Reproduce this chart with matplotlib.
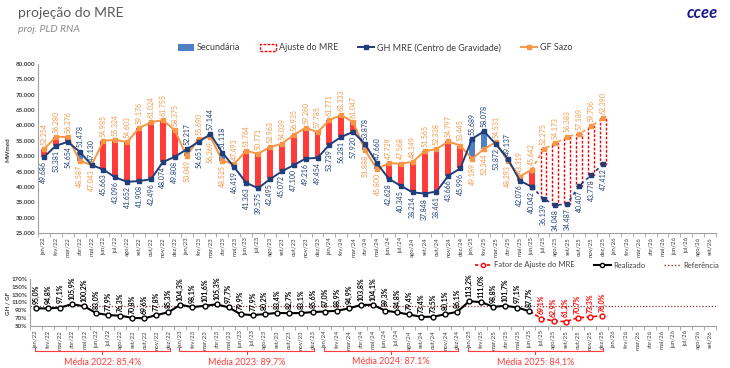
import matplotlib
matplotlib.use("Agg")
import matplotlib.pyplot as plt
from matplotlib.lines import Line2D
from matplotlib.patches import Patch
import matplotlib.transforms as mtransforms

plt.rcParams['font.family'] = ['Lato', 'DejaVu Sans']

# --- data -------------------------------------------------------------
meses = ['jan', 'fev', 'mar', 'abr', 'mai', 'jun', 'jul', 'ago', 'set', 'out', 'nov', 'dez']
rotulos = [f"{m}/{a}" for a in ['22', '23', '24', '25', '26'] for m in meses][:57]

# GH MRE (Centro de Gravidade), MWmed  - jan/22 .. dez/25
gh_mre = [49686, 53381, 54654, 51478, 47130, 45663, 43096, 41652, 41908, 42496, 48074, 49808,
          52217, 54651, 57144, 51118, 46419, 41363, 39575, 42495, 45072, 47100, 49216, 49454,
          53739, 56281, 57920, 53878, 47660, 42628, 40345, 38214, 37848, 38461, 43666, 45996,
          55689, 58078, 53872, 49137, 42076, 40042, 36139, 34048, 34487, 40407, 43778, 47412]

# GF Sazo, MWmed
gf_sazo = [52254, 56280, 56276, 48587, 47043, 54985, 55324, 54603, 59176, 61024, 61755, 58375,
           50049, 55690, 56269, 48525, 47493, 51764, 50771, 52963, 54039, 56935, 59260, 57785,
           61771, 63333, 61047, 51888, 45800, 47729, 47568, 48149, 51565, 52338, 54797, 53445,
           49189, 52344, 54531, 48293, 43319, 45642, 52275, 54173, 56383, 57189, 59706, 62390]

n_realizado = 42  # jan/22 .. jun/25

# GH / GF (%)
fator = [95.0, 94.8, 97.1, 105.9, 100.2, 83.0, 77.9, 76.3, 70.8, 69.6, 77.8, 85.3,
         104.3, 98.1, 101.6, 105.3, 97.7, 79.9, 77.9, 80.2, 83.4, 82.7, 83.1, 85.6,
         87.0, 88.9, 94.9, 103.8, 104.1, 89.3, 84.8, 79.4, 73.4, 73.5, 80.1, 86.1,
         113.2, 111.0, 98.8, 101.7, 97.1, 87.7, 69.1, 62.9, 61.2, 70.7, 73.3, 76.0]

medias = ['Média 2022: 85,4%', 'Média 2023: 89,7%', 'Média 2024: 87.1%', 'Média 2025: 84,1%']

# --- colours ----------------------------------------------------------
NAVY = '#1F3F7A'
ORANGE = '#F79646'
RED = '#FF3B3B'
BLUE = '#4F7FC4'
GRAY = '#404040'

W, H = 730, 368
fig = plt.figure(figsize=(W / 100, H / 100), dpi=100)


def px_axes(left, top, right, bottom):
    return fig.add_axes([left / W, 1 - bottom / H, (right - left) / W, (bottom - top) / H])


def fmt_mw(v):
    return f"{v:,}".replace(',', '.')


def style_axis(a):
    a.set_xlim(-0.5, 56.5)
    a.set_xticks(range(57))
    a.set_xticklabels(rotulos, rotation=90, fontsize=4.3, color=GRAY)
    a.set_xticks([i + 0.5 for i in range(-1, 57)], minor=True)
    a.tick_params(axis='x', which='major', length=0, pad=3)
    a.tick_params(axis='x', which='minor', length=3, color='#A0A0A0')
    a.tick_params(axis='y', length=0, pad=2)
    for s in ['top', 'right']:
        a.spines[s].set_visible(False)
    for s in ['left', 'bottom']:
        a.spines[s].set_color('#A0A0A0')
        a.spines[s].set_linewidth(0.8)


fig.text(18 / W, 1 - 13 / H, 'projeção do MRE', fontsize=10, color='#595959', va='center')
fig.text(18 / W, 1 - 30 / H, 'proj. PLD RNA', fontsize=7.5, color='#8C8C8C', style='italic', va='center')
fig.text(718 / W, 1 - 13 / H, 'ccee', fontsize=12, color='#1A1A8C', fontweight='bold',
         style='italic', ha='right', va='center')

# --- upper chart -----------------------------------------------------
ax = px_axes(38, 64, 716, 233)
x = list(range(len(gh_mre)))
r = n_realizado

for i in x:
    lo, hi = min(gh_mre[i], gf_sazo[i]), max(gh_mre[i], gf_sazo[i])
    if i < r:
        cor = RED if gf_sazo[i] >= gh_mre[i] else BLUE
        ax.bar(i, hi - lo, bottom=lo, width=0.5, color=cor, linewidth=0, zorder=2)
    else:
        ax.bar(i, hi - lo, bottom=lo, width=0.5, facecolor='white', edgecolor='#FF0000',
               linestyle=(0, (2, 1.2)), linewidth=1.0, zorder=2)

ax.plot(x[:r], gh_mre[:r], color=NAVY, lw=1.4, marker='s', ms=2.2, zorder=4)
ax.plot(x[r - 1:], gh_mre[r - 1:], color=NAVY, lw=1.2, ls=(0, (2, 2)), marker='s', ms=2.2, zorder=4)
ax.plot(x[:r], gf_sazo[:r], color=ORANGE, lw=1.4, marker='s', ms=2.2, zorder=3)
ax.plot(x[r - 1:], gf_sazo[r - 1:], color=ORANGE, lw=1.2, ls=(0, (2, 2)), marker='s', ms=2.2, zorder=3)

for i in x:
    gh_up = gh_mre[i] > gf_sazo[i]
    ax.annotate(fmt_mw(gh_mre[i]), (i, gh_mre[i]), xytext=(0, 3 if gh_up else -3),
                textcoords='offset points', rotation=90, ha='center',
                va='bottom' if gh_up else 'top', fontsize=5, color=NAVY, zorder=5)
    ax.annotate(fmt_mw(gf_sazo[i]), (i, gf_sazo[i]), xytext=(0, -3 if gh_up else 3),
                textcoords='offset points', rotation=90, ha='center',
                va='top' if gh_up else 'bottom', fontsize=5, color=ORANGE, zorder=5)

style_axis(ax)
ax.set_ylim(25000, 80000)
ax.set_yticks(range(25000, 80001, 5000))
ax.set_yticklabels([fmt_mw(v) for v in range(25000, 80001, 5000)], fontsize=4.5,
                   color=GRAY, fontweight='bold')
fig.text(8 / W, 1 - 150 / H, 'MWmed', rotation=90, fontsize=4.5, fontweight='bold',
         color=GRAY, ha='center', va='center')

leg1 = [Patch(facecolor=BLUE, edgecolor='none', label='Secundária'),
        Patch(facecolor='white', edgecolor='#FF0000', linestyle=(0, (2, 1)), lw=1, label='Ajuste do MRE'),
        Line2D([], [], color=NAVY, marker='s', ms=2.5, lw=1.4, label='GH MRE (Centro de Gravidade)'),
        Line2D([], [], color=ORANGE, marker='s', ms=2.5, lw=1.4, label='GF Sazo')]
fig.legend(handles=leg1, loc='center', bbox_to_anchor=(375 / W, 1 - 48 / H), ncol=4,
           frameon=False, fontsize=6.5, handlelength=1.8, handleheight=0.7,
           columnspacing=2.2, handletextpad=0.3, labelcolor=GRAY)

# --- lower chart -----------------------------------------------------
bx = px_axes(30, 279, 716, 326)
bx.axhline(100, color='#8B3A3A', lw=0.9, ls=(0, (1, 1.5)), zorder=1)
bx.plot(x[:r], fator[:r], color='black', lw=1.5, marker='o', ms=3.5,
        mfc='white', mec='black', mew=1, zorder=3)
bx.plot(x[r - 1:], fator[r - 1:], color='#FF0000', lw=1.2, ls=(0, (2.5, 1.5)), zorder=2)
bx.plot(x[r:], fator[r:], ls='none', marker='o', ms=3.5, mfc='white', mec='#FF0000', mew=1, zorder=3)

for i in x:
    cor = 'black' if i < r else '#FF0000'
    bx.annotate(f"{fator[i]:.1f}%".replace('.', ','), (i, fator[i]), xytext=(0, 3),
                textcoords='offset points', rotation=90, ha='center', va='bottom',
                fontsize=5, fontweight='bold', color=cor, zorder=5)

style_axis(bx)
bx.set_ylim(50, 170)
bx.set_yticks(range(50, 171, 20))
bx.set_yticklabels([f"{v}%" for v in range(50, 171, 20)], fontsize=4.5, color=GRAY, fontweight='bold')
fig.text(8 / W, 1 - 303 / H, 'GH / GF', rotation=90, fontsize=4.5, fontweight='bold',
         color=GRAY, ha='center', va='center')

leg2 = [Line2D([], [], color='#FF0000', ls=(0, (2, 1.5)), marker='o', ms=3, mfc='white',
               mec='#FF0000', lw=1.2, label='Fator de Ajuste do MRE'),
        Line2D([], [], color='black', marker='o', ms=3, mfc='white', mec='black', lw=1.5,
               label='Realizado'),
        Line2D([], [], color='#8B3A3A', ls=(0, (1, 1.5)), lw=1, label='Referência')]
fig.legend(handles=leg2, loc='center', bbox_to_anchor=(597 / W, 1 - 265 / H), ncol=3,
           frameon=False, fontsize=5.5, handlelength=2.2, columnspacing=2.5,
           handletextpad=0.3, labelcolor=GRAY)

# brackets with the yearly averages
trans = mtransforms.blended_transform_factory(bx.transData, fig.transFigure)
yb = 1 - 351 / H
hook = 3 / H
for k, txt in enumerate(medias):
    x0, x1 = 12 * k - 0.1, 12 * k + 11.1
    xm = (x0 + x1) / 2
    bx.plot([x0, x0, x1, x1], [yb + hook, yb, yb, yb + hook], transform=trans,
            color=RED, lw=0.8, clip_on=False)
    bx.plot([xm, xm], [yb, yb - hook], transform=trans, color=RED, lw=0.8, clip_on=False)
    bx.text(xm, 1 - 362 / H, txt, transform=trans, fontsize=6.5, color=RED,
            ha='center', va='center')

fig.savefig('out.png', dpi=100)
